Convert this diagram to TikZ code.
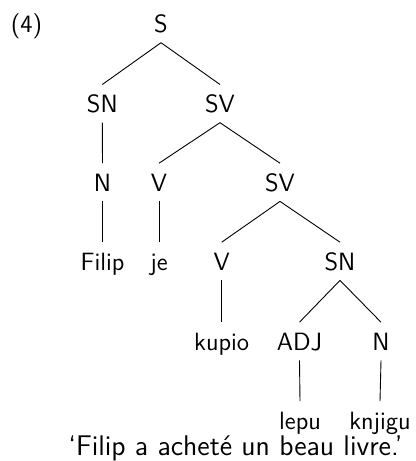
\documentclass[tikz,border=0pt]{standalone}
\begin{document}
\begin{tikzpicture}[x=0.5pt,y=-0.5pt,
  lab/.style={font=\fontsize{12.5}{15}\selectfont\sffamily, text height=8.7pt, text depth=0pt, inner xsep=1pt, inner ysep=5pt, anchor=base},
  edge/.style={line width=0.45pt}]
\useasboundingbox (0,0) rectangle (416,461);
\node[lab] (ex) at (26.5,32.3) {(4)};
\node[lab] (S) at (161,32.3) {S};
\node[lab] (SN) at (102.3,112.3) {SN};
\node[lab] (SV) at (220,112.3) {SV};
\node[lab] (N) at (102.5,191) {N};
\node[lab] (V) at (159,191) {V};
\node[lab] (SVb) at (280,191) {SV};
\node[lab] (Filip) at (102.5,270) {Filip};
\node[lab] (je) at (159,270) {je};
\node[lab] (Vb) at (221.7,270) {V};
\node[lab] (SNb) at (340,270) {SN};
\node[lab] (kupio) at (221.7,350) {kupio};
\node[lab] (ADJ) at (299.5,350) {ADJ};
\node[lab] (Nb) at (381,350) {N};
\node[lab] (lepu) at (300,429) {lepu};
\node[lab] (knjigu) at (380,429) {knjigu};
\node[lab, font=\fontsize{14.2}{17}\selectfont\sffamily] (tr) at (235.5,455) {`Filip a achet\'e un beau livre.'};
\draw[edge] (S.south) -- (SN.north);
\draw[edge] (S.south) -- (SV.north);
\draw[edge] (SN.south) -- (N.north);
\draw[edge] (SV.south) -- (V.north);
\draw[edge] (SV.south) -- (SVb.north);
\draw[edge] (N.south) -- (Filip.north);
\draw[edge] (V.south) -- (je.north);
\draw[edge] (SVb.south) -- (Vb.north);
\draw[edge] (SVb.south) -- (SNb.north);
\draw[edge] (Vb.south) -- (kupio.north);
\draw[edge] (SNb.south) -- (ADJ.north);
\draw[edge] (SNb.south) -- (Nb.north);
\draw[edge] (ADJ.south) -- (lepu.north);
\draw[edge] (Nb.south) -- (knjigu.north);
\end{tikzpicture}
\end{document}
